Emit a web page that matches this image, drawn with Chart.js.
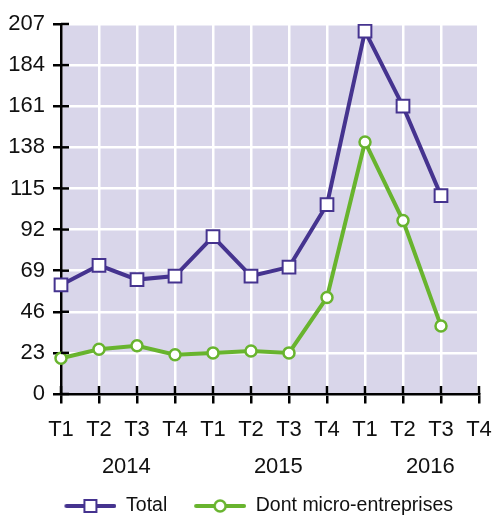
<!DOCTYPE html>
<html>
<head>
<meta charset="utf-8">
<script src="https://cdn.jsdelivr.net/npm/chart.js@4/dist/chart.umd.min.js"></script>
<style>
html,body{margin:0;padding:0;background:#fff;}
#wrap{width:494px;height:516px;}
</style>
</head>
<body>
<div id="wrap"><canvas id="c" width="494" height="516"></canvas></div>
<script>
const categories = ['T1','T2','T3','T4','T1','T2','T3','T4','T1','T2','T3','T4'];
const years = ['2014','2015','2016'];
const yearStartIndex = [0, 4, 8];
const totalValues = [61, 72, 64, 66, 88, 66, 71, 106, 203, 161, 111, null];
const microValues = [20, 25, 27, 22, 23, 24, 23, 54, 141, 97, 38, null];
const yMin = 0, yMax = 207, yStep = 23;
const seriesNames = ['Total', 'Dont micro-entreprises'];

const PURPLE = '#45338f';
const GREEN = '#68b42e';
const BG = '#d9d6ea';
const FONT = "'Liberation Sans', Arial, sans-serif";
const LEG_W = 53;

function legendImage(color, kind) {
  const c = document.createElement('canvas');
  c.width = LEG_W; c.height = 18;
  const g = c.getContext('2d');
  const x0 = LEG_W - 52;
  g.strokeStyle = color; g.lineWidth = 4; g.lineCap = 'round';
  g.beginPath(); g.moveTo(x0 + 2, 9); g.lineTo(LEG_W - 2, 9); g.stroke();
  g.fillStyle = '#fff';
  const cx = x0 + 26;
  if (kind === 'rect') {
    g.lineWidth = 2;
    g.fillRect(cx - 6, 3, 12, 12); g.strokeRect(cx - 6, 3, 12, 12);
  } else {
    g.lineWidth = 2.5;
    g.beginPath(); g.arc(cx, 9, 5.5, 0, Math.PI * 2); g.fill(); g.stroke();
  }
  return c;
}
const legendImgs = [legendImage(PURPLE, 'rect'), legendImage(GREEN, 'circle')];

const bgPlugin = {
  id: 'bg',
  beforeDraw(chart) {
    const a = chart.chartArea, ctx = chart.ctx;
    ctx.save(); ctx.fillStyle = BG;
    ctx.fillRect(a.left, a.top, a.right - a.left - 2, a.bottom - a.top);
    ctx.restore();
  }
};
const extraPlugin = {
  id: 'extra',
  afterDraw(chart) {
    const ctx = chart.ctx, xs = chart.scales.x, ys = chart.scales.y, a = chart.chartArea;
    ctx.save();
    ctx.strokeStyle = '#000'; ctx.lineWidth = 2.5;
    ys.ticks.forEach((t, i) => {
      const y = ys.getPixelForTick(i);
      ctx.beginPath(); ctx.moveTo(a.left, y); ctx.lineTo(a.left + 8, y); ctx.stroke();
    });
    categories.forEach((c, i) => {
      const x = xs.getPixelForValue(i);
      ctx.beginPath(); ctx.moveTo(x, a.bottom); ctx.lineTo(x, a.bottom - 8); ctx.stroke();
    });
    ctx.fillStyle = '#111';
    ctx.font = "22px " + FONT;
    ctx.textAlign = 'center'; ctx.textBaseline = 'middle';
    const step = xs.getPixelForValue(1) - xs.getPixelForValue(0);
    years.forEach((yr, k) => {
      const x = xs.getPixelForValue(yearStartIndex[k]) + 1.72 * step;
      ctx.fillText(yr, x, 467);
    });
    ctx.restore();
  }
};

new Chart(document.getElementById('c'), {
  type: 'line',
  data: {
    labels: categories,
    datasets: [
      {
        label: seriesNames[0], data: totalValues,
        borderColor: PURPLE, borderWidth: 4, backgroundColor: '#fff',
        pointStyle: 'rect', pointRadius: 9, pointBorderWidth: 2,
        pointBackgroundColor: '#fff', pointBorderColor: PURPLE,
        tension: 0, spanGaps: false
      },
      {
        label: seriesNames[1], data: microValues,
        borderColor: GREEN, borderWidth: 4, backgroundColor: '#fff',
        pointStyle: 'circle', pointRadius: 5.5, pointBorderWidth: 2.5,
        pointBackgroundColor: '#fff', pointBorderColor: GREEN,
        tension: 0, spanGaps: false
      }
    ]
  },
  options: {
    responsive: false,
    animation: false,
    layout: { padding: { left: 8, top: 24, right: 15, bottom: 0 } },
    plugins: {
      tooltip: { enabled: false },
      legend: {
        position: 'bottom',
        align: 'end',
        maxHeight: 45.75,
        labels: {
          usePointStyle: true,
          pointStyleWidth: 52.8,
          padding: 26,
          color: '#111',
          font: { family: FONT, size: 19.5 },
          generateLabels(chart) {
            return chart.data.datasets.map((d, i) => ({
              text: d.label, datasetIndex: i, pointStyle: legendImgs[i],
              fillStyle: '#fff', strokeStyle: d.borderColor, lineWidth: 0, hidden: false, fontColor: '#111'
            }));
          }
        }
      }
    },
    scales: {
      x: {
        type: 'category',
        offset: false,
        grid: { color: '#fff', lineWidth: 2.5, tickColor: '#000', tickWidth: 2.5, tickLength: 23, tickBorderDash: [8, 200], drawTicks: true },
        border: { display: true, color: '#000', width: 2.5 },
        ticks: { color: '#111', font: { family: FONT, size: 22 }, padding: 0, maxRotation: 0, autoSkip: false },
        afterFit(scale) { scale.height = 76.25; }
      },
      y: {
        min: yMin, max: yMax,
        grid: { color: '#fff', lineWidth: 2.5, tickColor: '#000', tickWidth: 2.5, tickLength: 8 },
        border: { display: true, color: '#000', width: 2.5 },
        ticks: { stepSize: yStep, color: '#111', font: { family: FONT, size: 22 }, padding: 8 },
        afterFit(scale) { scale.width = 53; }
      }
    }
  },
  plugins: [bgPlugin, extraPlugin]
});
</script>
</body>
</html>
